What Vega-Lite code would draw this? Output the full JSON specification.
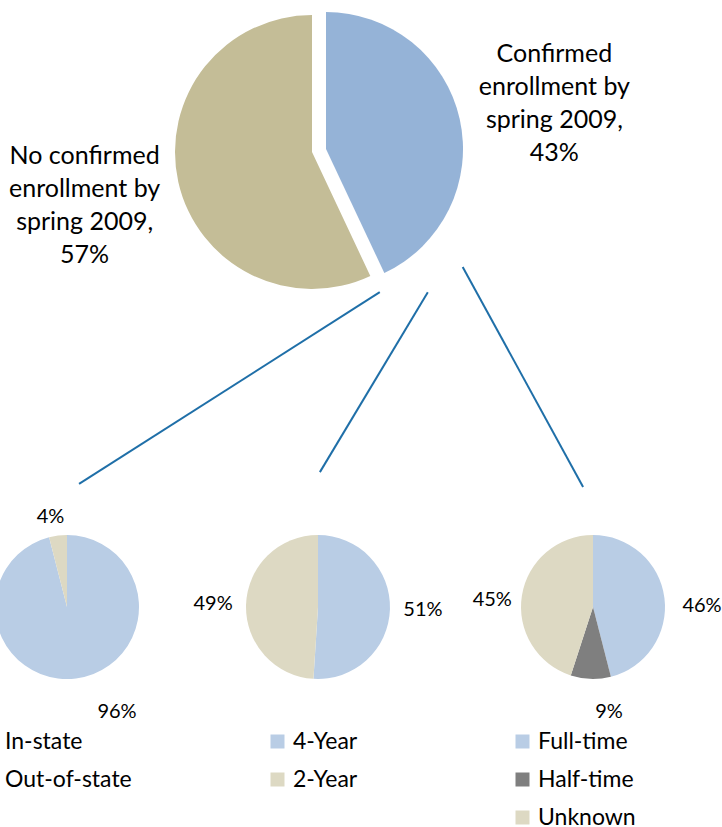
{
  "$schema": "https://vega.github.io/schema/vega-lite/v6.json",
  "padding": {"left": -17, "top": 0, "right": 0, "bottom": 0},
  "autosize": {"type": "pad"},
  "background": "white",
  "spacing": 231,
  "bounds": "flush",
  "config": {
    "view": {"stroke": null},
    "font": "Lato",
    "text": {"font": "Lato", "color": "black"},
    "legend": {
      "orient": "bottom",
      "direction": "vertical",
      "offset": 50.5,
      "padding": 0,
      "symbolType": "square",
      "symbolSize": 196,
      "symbolStrokeWidth": 0,
      "symbolOffset": -5,
      "labelFont": "Lato",
      "labelFontSize": 23,
      "labelColor": "black",
      "labelOffset": 4,
      "labelLimit": 300,
      "rowPadding": 14
    }
  },
  "datasets": {
    "overall": [
      {"status": "Confirmed enrollment", "share": 0.43, "order": 1, "label": "Confirmed\nenrollment by\nspring 2009,\n43%"},
      {"status": "No confirmed enrollment", "share": 0.57, "order": 2, "label": "No confirmed\nenrollment by\nspring 2009,\n57%"}
    ],
    "location": [
      {"category": "In-state", "share": 0.96, "order": 1},
      {"category": "Out-of-state", "share": 0.04, "order": 2}
    ],
    "level": [
      {"category": "4-Year", "share": 0.51, "order": 1},
      {"category": "2-Year", "share": 0.49, "order": 2}
    ],
    "intensity": [
      {"category": "Full-time", "share": 0.46, "order": 1},
      {"category": "Half-time", "share": 0.09, "order": 2},
      {"category": "Unknown", "share": 0.45, "order": 3}
    ],
    "connectors": [
      {"branch": "Location", "x_start": 60.3, "y_start": 96.1, "x_end": 14.6, "y_end": 159.2},
      {"branch": "Level", "x_start": 67.6, "y_start": 96.1, "x_end": 51.2, "y_end": 155.3},
      {"branch": "Intensity", "x_start": 72.9, "y_start": 87.8, "x_end": 91.2, "y_end": 160.2}
    ]
  },
  "resolve": {"scale": {"color": "independent", "theta": "independent", "x": "independent", "y": "independent"}, "legend": {"color": "independent"}},
  "vconcat": [
    {
      "width": 658,
      "height": 304,
      "layer": [
        {
          "data": {"name": "overall"},
          "mark": {"type": "arc", "outerRadius": 137},
          "encoding": {
            "theta": {"field": "share", "type": "quantitative", "stack": true},
            "order": {"field": "order", "type": "quantitative"},
            "color": {"field": "status", "type": "nominal", "scale": {"domain": ["Confirmed enrollment", "No confirmed enrollment"], "range": ["#95B3D7", "#C4BD97"]}, "legend": null},
            "opacity": {"condition": {"test": "datum.order == 2", "value": 1}, "value": 0}
          }
        },
        {
          "data": {"name": "overall"},
          "mark": {"type": "arc", "outerRadius": 137, "xOffset": 14, "yOffset": -3},
          "encoding": {
            "theta": {"field": "share", "type": "quantitative", "stack": true},
            "order": {"field": "order", "type": "quantitative"},
            "color": {"field": "status", "type": "nominal", "scale": {"domain": ["Confirmed enrollment", "No confirmed enrollment"], "range": ["#95B3D7", "#C4BD97"]}, "legend": null},
            "opacity": {"condition": {"test": "datum.order == 1", "value": 1}, "value": 0}
          }
        },
        {
          "data": {"name": "overall"},
          "mark": {"type": "text", "radius": 233, "dy": -47, "fontSize": 25, "lineHeight": 33, "lineBreak": "\n", "align": "center", "baseline": "middle"},
          "encoding": {
            "theta": {"field": "share", "type": "quantitative", "stack": true},
            "order": {"field": "order", "type": "quantitative"},
            "text": {"field": "label"},
            "opacity": {"condition": {"test": "datum.order == 2", "value": 1}, "value": 0}
          }
        },
        {
          "data": {"name": "overall"},
          "mark": {"type": "text", "radius": 234, "xOffset": 14, "yOffset": -3, "dy": -44, "fontSize": 25, "lineHeight": 33, "lineBreak": "\n", "align": "center", "baseline": "middle"},
          "encoding": {
            "theta": {"field": "share", "type": "quantitative", "stack": true},
            "order": {"field": "order", "type": "quantitative"},
            "text": {"field": "label"},
            "opacity": {"condition": {"test": "datum.order == 1", "value": 1}, "value": 0}
          }
        },
        {
          "data": {"name": "connectors"},
          "mark": {"type": "rule", "color": "#1F6FA8", "strokeWidth": 2},
          "encoding": {
            "x": {"field": "x_start", "type": "quantitative", "scale": {"domain": [0, 100]}, "axis": null},
            "y": {"field": "y_start", "type": "quantitative", "scale": {"domain": [0, 100], "reverse": true}, "axis": null},
            "x2": {"field": "x_end"},
            "y2": {"field": "y_end"}
          }
        }
      ]
    },
    {
      "spacing": 120,
      "bounds": "flush",
      "resolve": {"scale": {"color": "independent", "theta": "independent"}, "legend": {"color": "independent"}},
      "hconcat": [
        {
          "width": 168,
          "height": 144,
          "data": {"name": "location"},
          "layer": [
            {
              "mark": {"type": "arc", "outerRadius": 72},
              "encoding": {
                "theta": {"field": "share", "type": "quantitative", "stack": true},
                "order": {"field": "order", "type": "quantitative"},
                "color": {"field": "category", "type": "nominal", "scale": {"domain": ["In-state", "Out-of-state"], "range": ["#B9CDE5", "#DDD9C3"]}, "legend": {"title": null}}
              }
            },
            {
              "mark": {"type": "text", "radius": 94, "thetaOffset": -0.05, "dy": 3, "fontSize": 20, "align": "center", "baseline": "middle"},
              "encoding": {
                "theta": {"field": "share", "type": "quantitative", "stack": true},
                "order": {"field": "order", "type": "quantitative"},
                "text": {"field": "share", "type": "quantitative", "format": ".0%"},
                "opacity": {"condition": {"test": "datum.order == 2", "value": 1}, "value": 0}
              }
            },
            {
              "mark": {"type": "text", "radius": 116, "thetaOffset": -0.32, "fontSize": 20, "align": "center", "baseline": "middle"},
              "encoding": {
                "theta": {"field": "share", "type": "quantitative", "stack": true},
                "order": {"field": "order", "type": "quantitative"},
                "text": {"field": "share", "type": "quantitative", "format": ".0%"},
                "opacity": {"condition": {"test": "datum.order == 1", "value": 1}, "value": 0}
              }
            }
          ]
        },
        {
          "spacing": 151,
          "bounds": "flush",
          "resolve": {"scale": {"color": "independent", "theta": "independent"}, "legend": {"color": "independent"}},
          "hconcat": [
            {
              "width": 94,
              "height": 144,
              "data": {"name": "level"},
              "layer": [
                {
                  "mark": {"type": "arc", "outerRadius": 72},
                  "encoding": {
                    "theta": {"field": "share", "type": "quantitative", "stack": true},
                    "order": {"field": "order", "type": "quantitative"},
                    "color": {"field": "category", "type": "nominal", "scale": {"domain": ["4-Year", "2-Year"], "range": ["#B9CDE5", "#DDD9C3"]}, "legend": {"title": null}}
                  }
                },
                {
                  "mark": {"type": "text", "radius": 105, "fontSize": 20, "align": "center", "baseline": "middle"},
                  "encoding": {
                    "theta": {"field": "share", "type": "quantitative", "stack": true},
                    "order": {"field": "order", "type": "quantitative"},
                    "text": {"field": "share", "type": "quantitative", "format": ".0%"}
                  }
                }
              ]
            },
            {
              "width": 154,
              "height": 144,
              "data": {"name": "intensity"},
              "layer": [
                {
                  "mark": {"type": "arc", "outerRadius": 72},
                  "encoding": {
                    "theta": {"field": "share", "type": "quantitative", "stack": true},
                    "order": {"field": "order", "type": "quantitative"},
                    "color": {"field": "category", "type": "nominal", "scale": {"domain": ["Full-time", "Half-time", "Unknown"], "range": ["#B9CDE5", "#7F7F7F", "#DDD9C3"]}, "legend": {"title": null}}
                  }
                },
                {
                  "mark": {"type": "text", "radius": 109, "thetaOffset": 0.117, "fontSize": 20, "align": "center", "baseline": "middle"},
                  "encoding": {
                    "theta": {"field": "share", "type": "quantitative", "stack": true},
                    "order": {"field": "order", "type": "quantitative"},
                    "text": {"field": "share", "type": "quantitative", "format": ".0%"},
                    "opacity": {"condition": {"test": "datum.order == 1", "value": 1}, "value": 0}
                  }
                },
                {
                  "mark": {"type": "text", "radius": 106, "thetaOffset": -0.183, "fontSize": 20, "align": "center", "baseline": "middle"},
                  "encoding": {
                    "theta": {"field": "share", "type": "quantitative", "stack": true},
                    "order": {"field": "order", "type": "quantitative"},
                    "text": {"field": "share", "type": "quantitative", "format": ".0%"},
                    "opacity": {"condition": {"test": "datum.order == 2", "value": 1}, "value": 0}
                  }
                },
                {
                  "mark": {"type": "text", "radius": 101, "thetaOffset": -0.087, "fontSize": 20, "align": "center", "baseline": "middle"},
                  "encoding": {
                    "theta": {"field": "share", "type": "quantitative", "stack": true},
                    "order": {"field": "order", "type": "quantitative"},
                    "text": {"field": "share", "type": "quantitative", "format": ".0%"},
                    "opacity": {"condition": {"test": "datum.order == 3", "value": 1}, "value": 0}
                  }
                }
              ]
            }
          ]
        }
      ]
    }
  ]
}
